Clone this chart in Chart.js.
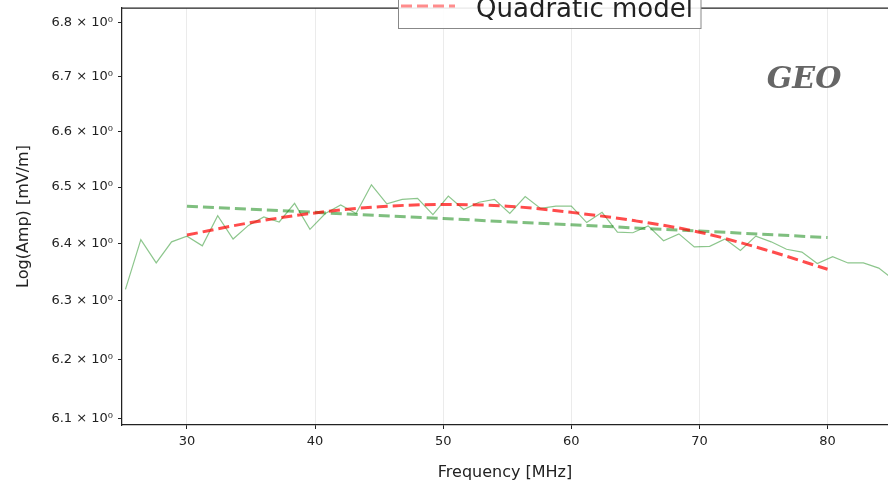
<!DOCTYPE html>
<html>
<head>
<meta charset="utf-8">
<script src="https://cdn.jsdelivr.net/npm/chart.js@4"></script>
<style>
  html, body { margin: 0; padding: 0; background: #fff; }
  #wrap { width: 888px; height: 485px; }
</style>
</head>
<body>
<div id="wrap"><canvas id="c" width="888" height="485"></canvas></div>
<script>
// measured amplitude vs frequency
const freq = [25.2, 26.4, 27.6, 28.8, 30.0, 31.2, 32.4, 33.6, 34.8, 36.0,
              37.2, 38.4, 39.6, 40.8, 42.0, 43.2, 44.4, 45.6, 46.8, 48.0,
              49.2, 50.4, 51.6, 52.8, 54.0, 55.2, 56.4, 57.6, 58.8, 60.0,
              61.2, 62.4, 63.6, 64.8, 66.0, 67.2, 68.4, 69.6, 70.8, 72.0,
              73.2, 74.4, 75.6, 76.8, 78.0, 79.2, 80.4, 81.6, 82.8, 84.0, 85.2];
const amp = [6.320, 6.407, 6.366, 6.403, 6.413, 6.396, 6.449, 6.408, 6.432, 6.447,
             6.438, 6.471, 6.425, 6.453, 6.468, 6.453, 6.504, 6.470, 6.478, 6.480,
             6.451, 6.484, 6.460, 6.473, 6.478, 6.453, 6.483, 6.462, 6.466, 6.466,
             6.437, 6.455, 6.420, 6.419, 6.431, 6.405, 6.417, 6.394, 6.395, 6.408,
             6.388, 6.413, 6.403, 6.390, 6.385, 6.365, 6.377, 6.366, 6.366, 6.357, 6.336];

// linear model (green dashed)
const linFreq = [30, 40, 50, 60, 70, 80];
const linAmp = [6.466, 6.455, 6.444, 6.433, 6.422, 6.4105];

// quadratic model (red dashed)
const quadFreq = [30, 35, 40, 45, 50, 55, 60, 65, 70, 75, 80];
const quadAmp = [6.415, 6.437, 6.454, 6.465, 6.469, 6.466, 6.455, 6.440, 6.420, 6.390, 6.355];

const xTicks = [30, 40, 50, 60, 70, 80];
const yTicks = [6.1, 6.2, 6.3, 6.4, 6.5, 6.6, 6.7, 6.8];

const toPts = (xs, ys) => xs.map((x, i) => ({x: x, y: ys[i]}));

const axisColor = '#222';
const tickFont = {family: 'DejaVu Sans', size: 13};

// top frame line, fake legend (cut off at the top) and GEO mark
const extras = {
    id: 'extras',
    afterDraw(chart) {
        const ctx = chart.ctx;
        const a = chart.chartArea;
        ctx.save();
        ctx.strokeStyle = axisColor;
        ctx.lineWidth = 1.25;
        ctx.beginPath();
        ctx.moveTo(a.left, a.top);
        ctx.lineTo(a.right, a.top);
        ctx.stroke();

        // legend box
        ctx.fillStyle = 'rgba(255,255,255,0.9)';
        ctx.fillRect(398.5, -30, 302.5, 58.5);
        ctx.strokeStyle = '#888';
        ctx.lineWidth = 1;
        ctx.strokeRect(398.5, -30, 302.5, 58.5);

        ctx.strokeStyle = 'rgba(255,0,0,0.45)';
        ctx.lineWidth = 3;
        ctx.setLineDash([11, 5]);
        ctx.beginPath();
        ctx.moveTo(401, 6);
        ctx.lineTo(455, 6);
        ctx.stroke();
        ctx.setLineDash([]);

        ctx.fillStyle = '#222';
        ctx.font = '26px "DejaVu Sans"';
        ctx.textAlign = 'left';
        ctx.textBaseline = 'alphabetic';
        ctx.fillText('Quadratic model', 476, 17);

        ctx.fillStyle = '#666';
        ctx.font = 'bold italic 30px "DejaVu Serif"';
        ctx.textAlign = 'center';
        ctx.fillText('GEO', 804, 88);
        ctx.restore();
    }
};

const chart = new Chart(document.getElementById('c'), {
    type: 'line',
    data: {
        datasets: [
            {
                label: 'Quadratic model',
                data: toPts(quadFreq, quadAmp),
                borderColor: 'rgba(255,0,0,0.7)',
                borderWidth: 3,
                borderDash: [11, 5],
                pointRadius: 0,
                cubicInterpolationMode: 'monotone',
                order: 1
            },
            {
                label: 'Linear model',
                data: toPts(linFreq, linAmp),
                borderColor: 'rgba(0,128,0,0.5)',
                borderWidth: 3,
                borderDash: [11, 5],
                pointRadius: 0,
                tension: 0,
                order: 2
            },
            {
                label: 'Data',
                data: toPts(freq, amp),
                borderColor: 'rgba(0,128,0,0.45)',
                borderWidth: 1.2,
                pointRadius: 0,
                tension: 0,
                order: 3
            }
        ]
    },
    options: {
        responsive: false,
        animation: false,
        layout: {padding: {top: 8, left: 0, right: 0, bottom: 0}},
        plugins: {
            legend: {display: false},
            tooltip: {enabled: false}
        },
        scales: {
            x: {
                type: 'linear',
                min: 24.93,
                max: 84.72,
                afterBuildTicks: (s) => { s.ticks = xTicks.map(v => ({value: v})); },
                afterFit: (s) => { s.height = 60; s.paddingLeft = 0; s.paddingRight = 0; },
                ticks: {font: tickFont, color: axisColor, padding: 5, maxRotation: 0},
                grid: {color: '#ebebeb', lineWidth: 1, tickColor: axisColor, tickLength: 4},
                border: {display: true, color: axisColor, width: 1.25},
                title: {
                    display: true,
                    text: 'Frequency [MHz]',
                    color: axisColor,
                    font: {family: 'DejaVu Sans', size: 16},
                    padding: {top: 0, bottom: 3}
                }
            },
            y: {
                type: 'logarithmic',
                min: 6.089,
                max: 6.8275,
                afterBuildTicks: (s) => { s.ticks = yTicks.map(v => ({value: v})); },
                afterFit: (s) => { s.width = 122; s.paddingTop = 0; s.paddingBottom = 0; },
                ticks: {
                    font: tickFont,
                    color: axisColor,
                    padding: 5,
                    callback: (v) => v.toFixed(1) + ' \u00d7 10\u2070'
                },
                grid: {drawOnChartArea: false, tickColor: axisColor, tickLength: 4},
                border: {display: true, color: axisColor, width: 1.25},
                title: {
                    display: true,
                    text: 'Log(Amp) [mV/m]',
                    color: axisColor,
                    font: {family: 'DejaVu Sans', size: 16},
                    padding: {top: 14, bottom: 0}
                }
            }
        }
    },
    plugins: [extras]
});
</script>
</body>
</html>
